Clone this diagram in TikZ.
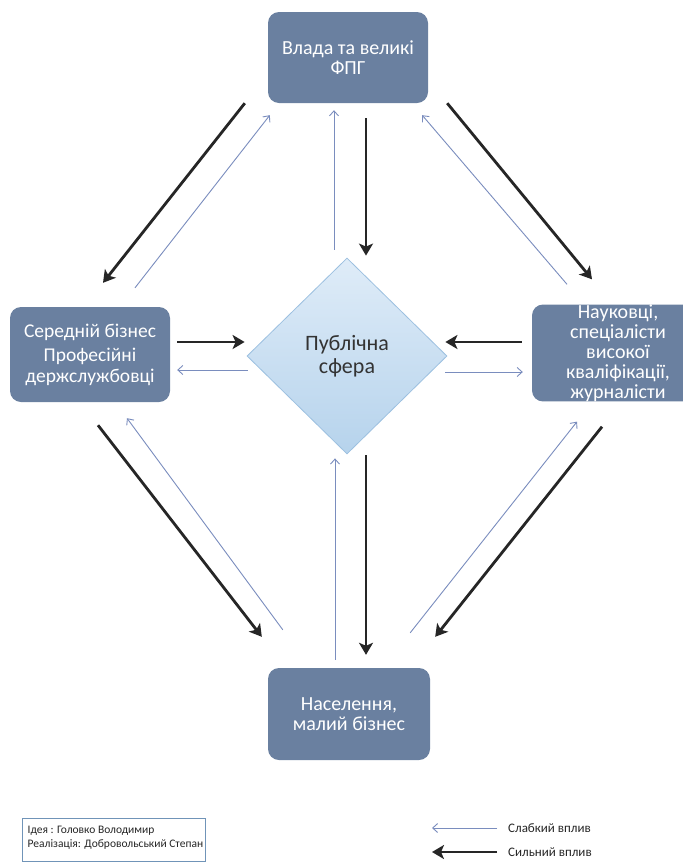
\documentclass[tikz,border=0pt]{standalone}
\usepackage{fontspec}
\setmainfont{Carlito}
\usetikzlibrary{arrows.meta,shapes.geometric,calc}
\definecolor{boxblue}{HTML}{6A80A0}
\definecolor{thinblue}{HTML}{7A8DBE}
\definecolor{darkarrow}{HTML}{262626}
\definecolor{diatop}{HTML}{DFECF8}
\definecolor{diabot}{HTML}{B6D3EC}
\definecolor{diaedge}{HTML}{9CC0E0}
\definecolor{crededge}{HTML}{7094B8}
\begin{document}
\begin{tikzpicture}[x=1pt,y=-1pt,
  actor/.style={rectangle, rounded corners=11pt, fill=boxblue, text=white,
    align=center, inner sep=0pt, font=\fontsize{20}{20}\selectfont},
  strong/.style={line width=2.8pt, draw=darkarrow,
    -{Stealth[length=12pt,width=14pt,inset=3pt]}},
  weak/.style={line width=0.9pt, draw=thinblue,
    -{Straight Barb[length=5pt,width=9pt]}},
  legtext/.style={anchor=west, inner sep=0pt, text=black!85, font=\fontsize{13}{14}\selectfont},
]
\useasboundingbox (0,0) rectangle (683,868);
\fill[white] (0,0) rectangle (683,868);

% boxes
\node[actor, minimum width=160pt, minimum height=91pt] (top) at (348,57.5) {Влада та великі\\ФПГ};
\node[actor, minimum width=160pt, minimum height=95pt, font=\fontsize{19.5}{20.5}\selectfont] (left) at (90,354.5)
  {Середній бізнес\\[4pt]Професійні\\держслужбовці};
\node[actor, minimum width=172pt, minimum height=90pt] (right) at (618,353)
  {Науковці,\\спеціалісти\\високої\\кваліфікації,\\журналісти};
\node[actor, minimum width=162pt, minimum height=92pt] (bottom) at (349,714)
  {Населення,\\малий бізнес};

% diamond
\node[diamond, aspect=1, inner sep=0pt, minimum width=200pt, minimum height=196pt,
  draw=diaedge, line width=0.8pt, top color=diatop, bottom color=diabot,
  align=center, text=black!80, font=\fontsize{22}{23}\selectfont] (dia) at (347,356)
  {Публічна\\сфера};

% diagonal connectors
\draw[strong] ($(top.south west)+(-23,0)$) -- ($(left.north)+(13,-24)$);
\draw[weak]   ($(left.north)+(45,-19)$) -- ($(top.south west)+(2,12)$);
\draw[strong] ($(top.south east)+(19,0)$) -- ($(right.north)+(-26,-25)$);
\draw[weak]   ($(right.north)+(-51,-20)$) -- ($(top.south east)+(-6,12)$);
\draw[strong] ($(left.south)+(8,23)$) -- ($(bottom.north west)+(-6,-31)$);
\draw[weak]   ($(bottom.north west)+(15,-38)$) -- ($(left.south)+(37,16)$);
\draw[strong] ($(right.south)+(-16,25)$) -- ($(bottom.north east)+(5,-31)$);
\draw[weak]   ($(bottom.north east)+(-20,-35)$) -- ($(right.south)+(-41,20)$);

% connectors to/from the diamond
\draw[strong] ($(top.south)+(18,15)$) -- ($(dia.north)+(19,-2)$);
\draw[weak]   ($(dia.north)+(-13,-8)$) -- ($(top.south)+(-14,7)$);
\draw[strong] ($(dia.south)+(19,1)$) -- ($(bottom.north)+(17,-13)$);
\draw[weak]   ($(bottom.north)+(-14,-8)$) -- ($(dia.south)+(-12,4)$);
\draw[strong] ($(left.east)+(7,-12.5)$) -- ($(dia.west)+(-2,-14)$);
\draw[weak]   ($(dia.west)+(1,14)$) -- ($(left.east)+(7,15.5)$);
\draw[strong] ($(right.west)+(-10,-11)$) -- ($(dia.east)+(-2,-14)$);
\draw[weak]   ($(dia.east)+(-2,16)$) -- ($(right.west)+(-9,19)$);

% credits
\node[draw=crededge, line width=1pt, rectangle, minimum width=183pt, minimum height=43pt,
  inner sep=0pt] (credits) at (113.5,840) {};
\begin{scope}
  \clip (credits.south west) rectangle (credits.north east);
  \node[anchor=north west, inner sep=0pt, align=left, text=black!85,
    font=\fontsize{11.5}{13.5}\selectfont] (credtext) at ($(credits.north west)+(6,8)$)
    {Ідея : Головко Володимир\\Реалізація: Добровольський Степан};
\end{scope}

% legend
\coordinate (wk1) at (497,828);
\coordinate (wk2) at (432,828);
\coordinate (st1) at (497,852);
\coordinate (st2) at (432,852);
\draw[weak] (wk1) -- (wk2);
\draw[strong] (st1) -- (st2);
\node[legtext] (wklab) at (508,828) {Слабкий вплив};
\node[legtext] (stlab) at (508,852) {Сильний вплив};
\end{tikzpicture}
\end{document}
